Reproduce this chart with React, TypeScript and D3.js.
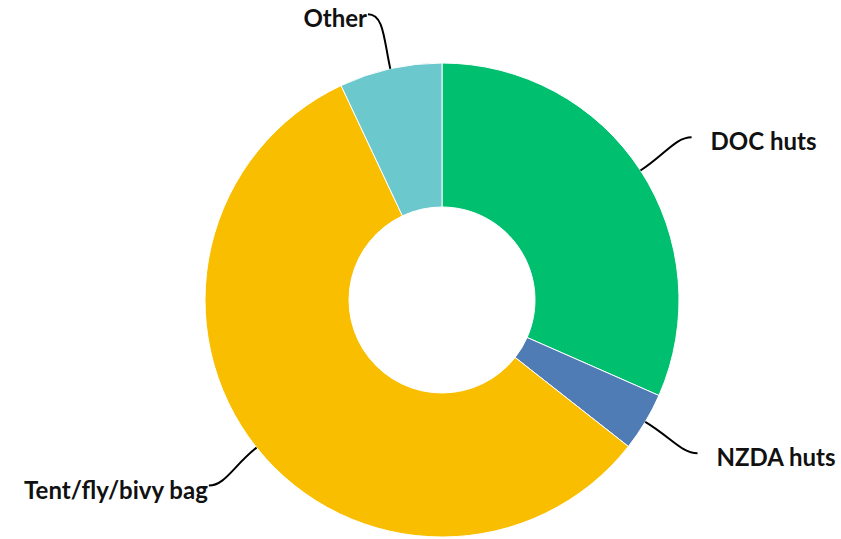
import React from "react";
import * as d3 from "d3";

const categories = ["DOC huts", "NZDA huts", "Tent/fly/bivy bag", "Other"];
const values = [31.6, 4.0, 57.4, 7.0];
const colors = ["#00BF6F", "#507CB6", "#F9BE00", "#6BC8CD"];

const W = 841;
const H = 539;
const cx = 442;
const cy = 300;
const outerR = 237;
const innerR = 93;
const labelR = 298;

export default function App() {
  const pie = d3.pie<number>().sort(null).value((d) => d);
  const arcs = pie(values);
  const arcGen = d3.arc<d3.PieArcDatum<number>>().innerRadius(innerR).outerRadius(outerR);

  const polar = (r: number, a: number) => [r * Math.sin(a), -r * Math.cos(a)];
  // small per-label nudges of the leader end (layout only)
  const nudge = [[0, 0], [0, 0], [0, 0], [-9, 5]];

  return (
    <svg width={W} height={H} style={{ position: "absolute", left: 0, top: 0 }}>
      <g transform={`translate(${cx},${cy})`}>
        {arcs.map((a, i) => (
          <path key={i} d={arcGen(a) || ""} fill={colors[i]} stroke="#fff" strokeWidth={1} />
        ))}
        {arcs.map((a, i) => {
          const mid = (a.startAngle + a.endAngle) / 2;
          const [sx, sy] = polar(outerR, mid);
          const [c1x, c1y] = polar(outerR + 30, mid);
          const [px, py] = polar(labelR, mid);
          const ex = px + nudge[i][0];
          const ey = py + nudge[i][1];
          const right = Math.sin(mid) > 0;
          const c2x = ex + (right ? -16 : 16);
          const c2y = ey;
          const tx = right ? ex + 19 : ex - 1;
          return (
            <g key={"l" + i}>
              <path
                d={`M${sx},${sy} C${c1x},${c1y} ${c2x},${c2y} ${ex},${ey}`}
                fill="none"
                stroke="#000"
                strokeWidth={2}
              />
              <text
                x={tx}
                y={ey + 13}
                textAnchor={right ? "start" : "end"}
                fontFamily="Lato, sans-serif"
                fontWeight={700}
                fontSize={24}
                fill="#111"
              >
                {categories[i]}
              </text>
            </g>
          );
        })}
      </g>
    </svg>
  );
}
